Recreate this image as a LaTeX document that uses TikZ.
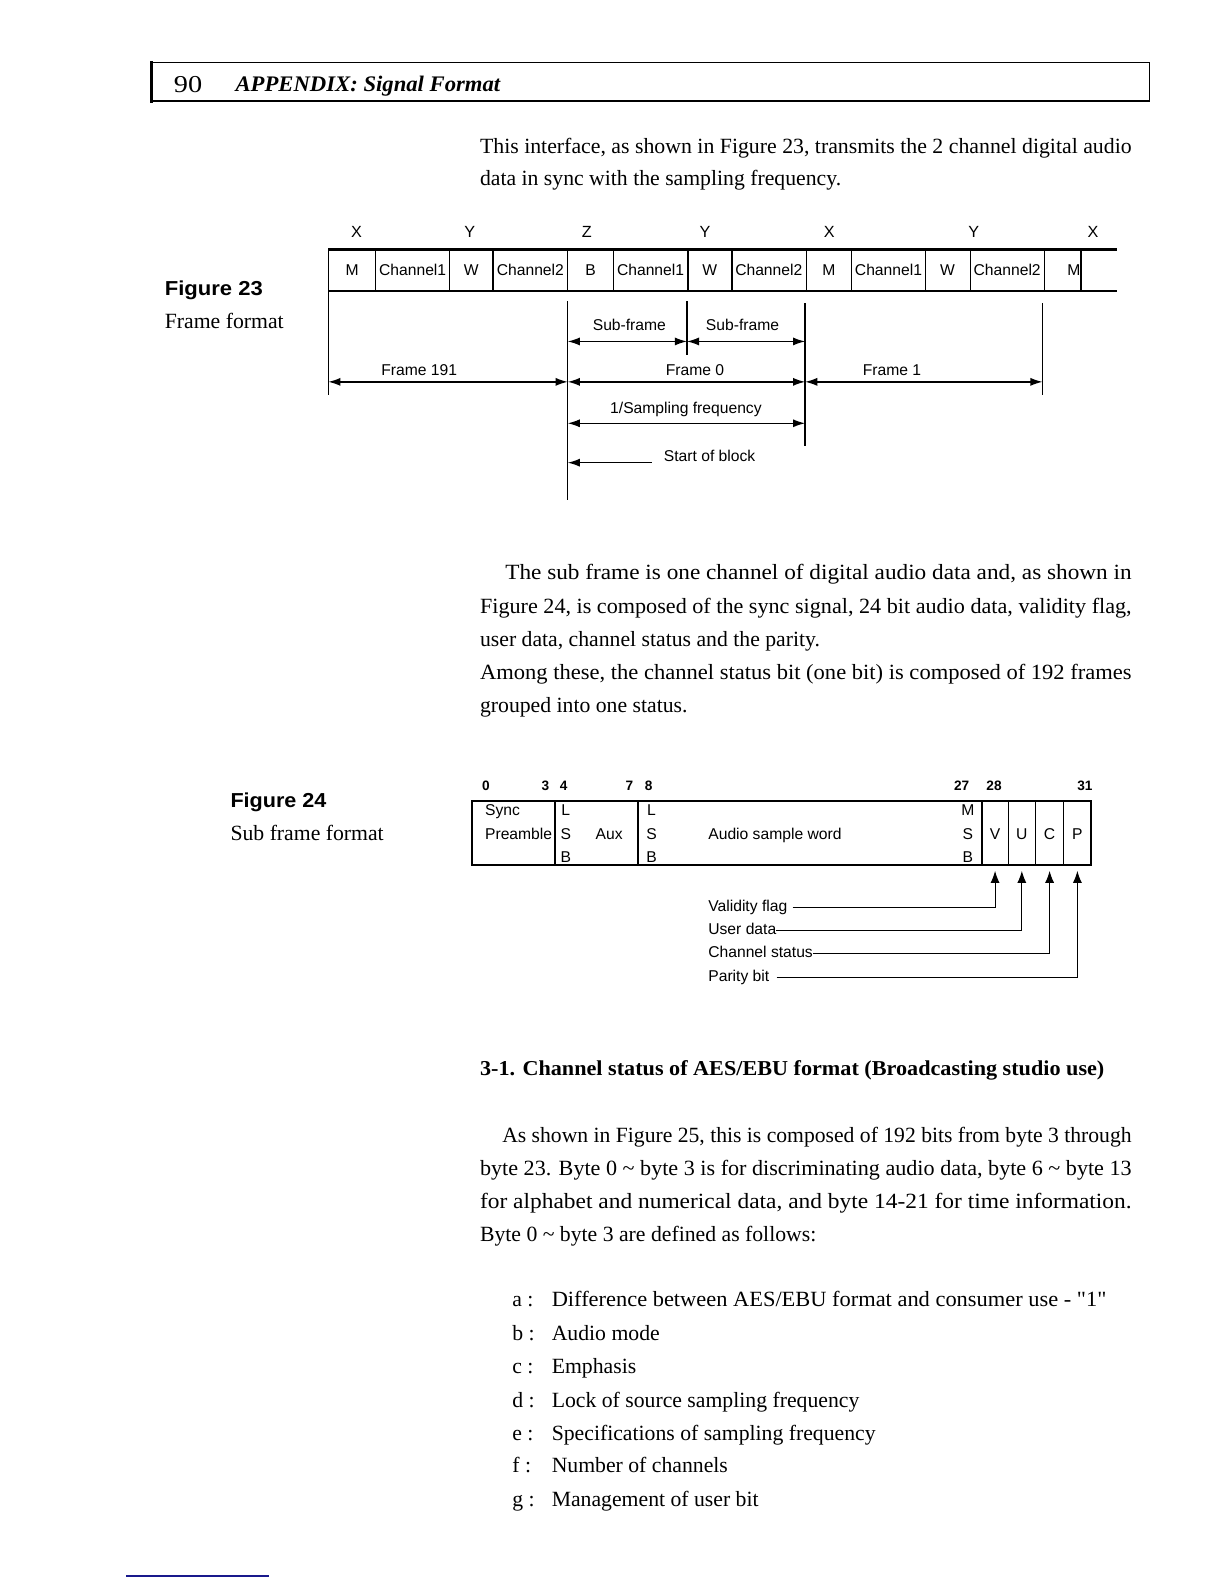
\documentclass[tikz,border=0pt]{standalone}
\usepackage{graphicx}
\usepackage{fontspec}
\setmainfont{Liberation Serif}
\newfontfamily\hv{Liberation Sans}
\newfontfamily\rawserif{Liberation Serif}[Ligatures=ResetAll]
\usetikzlibrary{arrows.meta}
\newcommand\fitw[2]{\resizebox{#1pt}{\height}{#2}}
\begin{document}
\begin{tikzpicture}[x=1pt,y=-1pt,
  txt/.style={anchor=base west, inner sep=0pt, font=\fontsize{21.5}{26}\selectfont},
  figcap/.style={anchor=base west, inner sep=0pt, font=\hv\bfseries\fontsize{20}{24}\selectfont},
  sf/.style={anchor=base, inner sep=0pt, font=\hv\fontsize{15.5}{18}\selectfont},
  sfw/.style={anchor=base west, inner sep=0pt, font=\hv\fontsize{15.5}{18}\selectfont},
  num/.style={anchor=base, inner sep=0pt, font=\hv\bfseries\fontsize{13.5}{16}\selectfont},
  thickln/.style={line width=2.2pt},
  thinln/.style={line width=1.2pt},
  guide/.style={line width=1.4pt},
  dbl/.style={line width=1.3pt, {Latex[length=12pt,width=8pt]}-{Latex[length=12pt,width=8pt]}},
  sgl/.style={line width=1.3pt, -{Latex[length=12pt,width=8pt]}},
  leader/.style={line width=1.1pt, -{Latex[length=12pt,width=9pt]}}
]
\useasboundingbox (0,0) rectangle (1212,1568);
\fill[white] (0,0) rectangle (1212,1568);

% ---------- header ----------
\draw[line width=1.6pt] (150,62) -- (1138,62);
\draw[line width=1.6pt] (150,100) -- (1138,100);
\draw[line width=3pt] (150,60.5) -- (150,101.5);
\draw[line width=0.9pt] (1138,62) -- (1138,100);
\node[txt, font=\fontsize{24}{28}\selectfont] (pg) at (172,92) {\fitw{28}{90}};
\node[txt, font=\bfseries\itshape\fontsize{22}{26}\selectfont] (hd) at (233,91) {\fitw{262}{APPENDIX: Signal Format}};

% ---------- paragraph 1 ----------
\node[txt] (p1a) at (475,152) {\fitw{645}{This interface, as shown in Figure 23, transmits the 2 channel digital audio}};
\node[txt] (p1b) at (475,184) {data in sync with the sampling frequency.};

% ---------- figure 23 captions ----------
\node[figcap] (f23) at (163,293) {\fitw{97}{Figure 23}};
\node[txt] (f23t) at (163,325) {Frame format};

% ---------- figure 23 strip ----------
\node[sf, font=\hv\fontsize{16}{18}\selectfont] (x1) at (353,235) {X};
\node[sf, font=\hv\fontsize{16}{18}\selectfont] (y1) at (465,235) {Y};
\node[sf, font=\hv\fontsize{16}{18}\selectfont] (z1) at (581,235) {Z};
\node[sf, font=\hv\fontsize{16}{18}\selectfont] (y2) at (698,235) {Y};
\node[sf, font=\hv\fontsize{16}{18}\selectfont] (x2) at (821,235) {X};
\node[sf, font=\hv\fontsize{16}{18}\selectfont] (y3) at (964,235) {Y};
\node[sf, font=\hv\fontsize{16}{18}\selectfont] (x3) at (1082,235) {X};

\draw[thickln] (325,247) -- (1106,247);
\draw[thickln] (325,288) -- (1106,288);
\draw[guide] (325,246) -- (325,391);
\foreach \x in {372,445,488,562,607,681,724.5,798,843,916,960.5,1034,1070}
  \draw[thinln] (\x,247) -- (\x,288);

\node[sf] (c1) at (348.5,273) {M};
\node[sf] (c2) at (408.5,273) {Channel1};
\node[sf] (c3) at (466.5,273) {W};
\node[sf] (c4) at (525,273) {Channel2};
\node[sf] (c5) at (584.5,273) {B};
\node[sf] (c6) at (644,273) {Channel1};
\node[sf] (c7) at (702.5,273) {W};
\node[sf] (c8) at (761,273) {Channel2};
\node[sf] (c9) at (820.5,273) {M};
\node[sf] (c10) at (879.5,273) {Channel1};
\node[sf] (c11) at (938,273) {W};
\node[sf] (c12) at (997,273) {Channel2};
\node[sf] (c13) at (1063,273) {M};

% guide lines
\draw[guide] (562,298) -- (562,495);
\draw[guide] (680,298) -- (680,351);
\draw[guide] (797,300) -- (797,441);
\draw[guide] (1032,300) -- (1032,391);

% arrows
\coordinate (s0) at (562,338);
\coordinate (s1) at (680,338);
\coordinate (s2) at (797,338);
\coordinate (a0) at (325,378);
\coordinate (a1) at (562,378);
\coordinate (a2) at (797,378);
\coordinate (a3) at (1032,378);
\coordinate (q0) at (562,419);
\coordinate (q1) at (797,419);
\coordinate (b0) at (645,458);
\coordinate (b1) at (562,458);

\draw[dbl] (s0) -- (s1);
\draw[dbl] (s1) -- (s2);
\draw[dbl] (a0) -- (a1);
\draw[dbl] (a1) -- (a2);
\draw[dbl] (a2) -- (a3);
\draw[dbl] (q0) -- (q1);
\draw[sgl] (b0) -- (b1);

\node[sf] (lsf1) at (623,327) {Sub-frame};
\node[sf] (lsf2) at (735,327) {Sub-frame};
\node[sf] (lf191) at (415,372) {Frame 191};
\node[sf] (lf0) at (688,372) {Frame 0};
\node[sf] (lf1) at (883,372) {Frame 1};
\node[sf] (lsamp) at (679,409) {1/Sampling frequency};
\node[sfw] (lsob) at (657,457) {Start of block};

% ---------- paragraph 2 ----------
\node[txt] (p2a) at (500,574) {\fitw{620}{The sub frame is one channel of digital audio data and, as shown in}};
\node[txt] (p2b) at (475,607) {\fitw{645}{Figure 24, is composed of the sync signal, 24 bit audio data, validity flag,}};
\node[txt] (p2c) at (475,640) {user data, channel status and the parity.};
\node[txt] (p2d) at (475,673) {\fitw{645}{Among these, the channel status bit (one bit) is composed of 192 frames}};
\node[txt] (p2e) at (475,705) {grouped into one status.};

% ---------- figure 24 captions ----------
\node[figcap] (f24) at (228,799) {\fitw{95}{Figure 24}};
\node[txt] (f24t) at (228,832) {Sub frame format};

% ---------- figure 24 box ----------
\node[num] (n0) at (481,783) {0};
\node[num] (n3) at (540,783) {3};
\node[num] (n4) at (558,783) {4};
\node[num] (n7) at (623,783) {7};
\node[num] (n8) at (642,783) {8};
\node[num] (n27) at (952,783) {27};
\node[num] (n28) at (984,783) {28};
\node[num] (n31) at (1074,783) {31};

\draw[line width=2.4pt] (467,793) rectangle (1080,856);
\draw[line width=2pt] (549.5,793) -- (549.5,856);
\draw[line width=2pt] (632,793) -- (632,856);
\foreach \x in {972,998,1025,1053}
  \draw[thinln] (\x,793) -- (\x,856);

\node[sfw] (sync) at (480,807) {Sync};
\node[sfw] (pre) at (480,831) {Preamble};
\node[sf] (l1) at (560,807) {L};
\node[sf] (s1t) at (560,831) {S};
\node[sf] (b1t) at (560,854) {B};
\node[sf] (aux) at (603,831) {Aux};
\node[sf] (l2) at (645,807) {L};
\node[sf] (s2t) at (645,831) {S};
\node[sf] (b2t) at (645,854) {B};
\node[sfw] (asw) at (701,831) {Audio sample word};
\node[sf] (m3) at (958,807) {M};
\node[sf] (s3t) at (958,831) {S};
\node[sf] (b3t) at (958,854) {B};
\node[sf] (cv) at (985,831) {V};
\node[sf] (cu) at (1011.5,831) {U};
\node[sf] (cc) at (1039,831) {C};
\node[sf] (cp) at (1066.5,831) {P};

\coordinate (tv) at (985,862);
\coordinate (tu) at (1011.5,862);
\coordinate (tc) at (1039,862);
\coordinate (tp) at (1066.5,862);

\node[sfw] (vf) at (701,902) {Validity flag};
\node[sfw] (ud) at (701,925) {User data};
\node[sfw] (cs) at (701,948) {Channel status};
\node[sfw] (pb) at (701,972) {Parity bit};

\draw[leader] ([shift={(5,-4)}]vf.base east) -| (tv);
\draw[leader] ([shift={(0,-4)}]ud.base east) -| (tu);
\draw[leader] ([shift={(0,-4)}]cs.base east) -| (tc);
\draw[leader] ([shift={(7,-4)}]pb.base east) -| (tp);

% ---------- section heading ----------
\node[txt, font=\bfseries\fontsize{21}{26}\selectfont] (sec) at (475,1065) {\fitw{618}{3-1. Channel status of AES/EBU format (Broadcasting studio use)}};

% ---------- paragraph 3 ----------
\node[txt] (p3a) at (497,1131) {\fitw{623}{As shown in Figure 25, this is composed of 192 bits from byte 3 through}};
\node[txt] (p3b) at (475,1164) {\fitw{645}{byte 23. Byte 0 \textasciitilde\ byte 3 is for discriminating audio data, byte 6 \textasciitilde\ byte 13}};
\node[txt] (p3c) at (475,1196) {\fitw{645}{for alphabet and numerical data, and byte 14-21 for time information.}};
\node[txt] (p3d) at (475,1229) {Byte 0 \textasciitilde\ byte 3 are defined as follows:};

% ---------- list ----------
\node[txt] (la) at (507,1293) {a :};
\node[txt] (ta) at (546,1293) {\fitw{549}{Difference between AES/EBU format and consumer use - {\rawserif "1"}}};
\node[txt] (lb) at (507,1327) {b :};
\node[txt] (tb) at (546,1327) {Audio mode};
\node[txt] (lc) at (507,1360) {c :};
\node[txt] (tc2) at (546,1360) {Emphasis};
\node[txt] (ld) at (507,1393) {d :};
\node[txt] (td) at (546,1393) {Lock of source sampling frequency};
\node[txt] (le) at (507,1426) {e :};
\node[txt] (te) at (546,1426) {Specifications of sampling frequency};
\node[txt] (lf) at (507,1458) {f :};
\node[txt] (tf) at (546,1458) {Number of channels};
\node[txt] (lg) at (507,1491) {g :};
\node[txt] (tg) at (546,1491) {Management of user bit};

% ---------- bottom rule ----------
\draw[line width=2pt, color={rgb,255:red,25;green,25;blue,140}] (125,1560) -- (266,1560);
\end{tikzpicture}
\end{document}
